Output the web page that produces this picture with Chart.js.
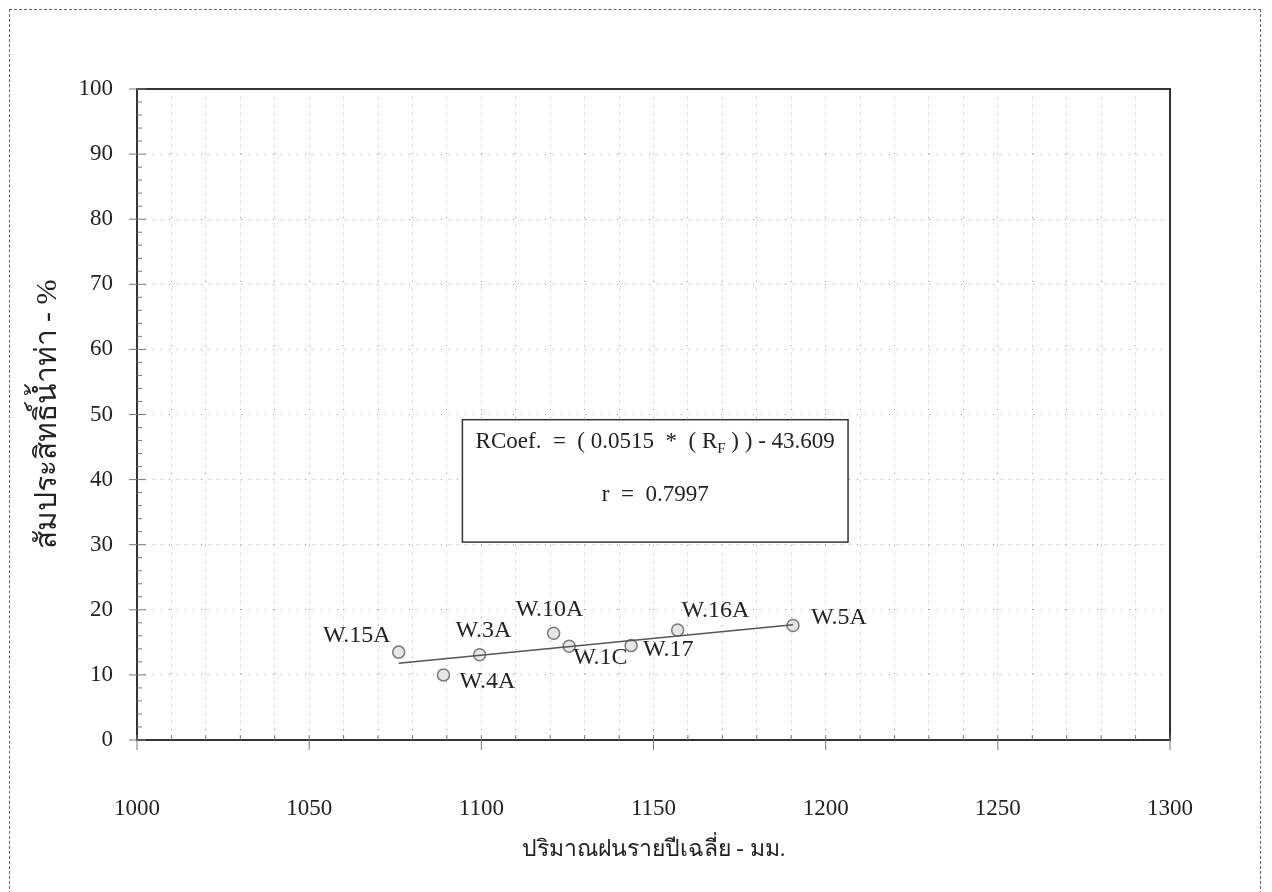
<!DOCTYPE html>
<html>
<head>
<meta charset="utf-8">
<script src="https://cdn.jsdelivr.net/npm/chart.js@4/dist/chart.umd.min.js"></script>
<style>
  body { margin: 0; background: #fff; }
  #wrap { position: relative; width: 1272px; height: 892px; }
  #frame { position: absolute; left: 9px; top: 9px; width: 1252px; height: 890px;
           border: 1px dashed #666; border-bottom: none; box-sizing: border-box; }
  canvas { position: absolute; left: 0; top: 0; }
</style>
</head>
<body>
<div id="wrap">
  <div id="frame"></div>
  <canvas id="c" width="1272" height="892"></canvas>
</div>
<script>
// stations, mean annual rainfall (mm) and runoff coefficient (%)
const stations = ['W.15A', 'W.4A', 'W.3A', 'W.10A', 'W.1C', 'W.17', 'W.16A', 'W.5A'];
const rainfall = [1076, 1089, 1099.5, 1121, 1125.5, 1143.5, 1157, 1190.5];
const runoffCoef = [13.5, 10.0, 13.1, 16.4, 14.4, 14.5, 16.9, 17.6];

// regression line endpoints
const trendX = [1076, 1190.5];
const trendY = [11.8, 17.7];

const eqLine1 = 'RCoef.  =  ( 0.0515  *  ( R';
const eqSub = 'F';
const eqLine1b = ' ) ) - 43.609';
const eqLine2 = 'r  =  0.7997';

const xTitle = 'ปริมาณฝนรายปีเฉลี่ย - มม.';
const yTitle = 'สัมประสิทธิ์น้ำท่า - %';

// label placement relative to each point (px), kept apart from the data
const labelOffsets = [
  { dx: -8, dy: -16, align: 'right' },
  { dx: 16, dy: 7, align: 'left' },
  { dx: -24, dy: -24, align: 'left' },
  { dx: -38, dy: -24, align: 'left' },
  { dx: 4, dy: 11, align: 'left' },
  { dx: 12, dy: 4, align: 'left' },
  { dx: 4, dy: -19, align: 'left' },
  { dx: 18, dy: -8, align: 'left' }
];

const serif = '"Liberation Serif", "Times New Roman", serif';
const ink = '#222';

const extras = {
  id: 'extras',
  afterDraw(chart) {
    const { ctx, chartArea: a, scales: { x, y } } = chart;
    ctx.save();
    // plot border
    ctx.strokeStyle = '#333';
    ctx.lineWidth = 2;
    ctx.strokeRect(a.left, a.top, a.right - a.left, a.bottom - a.top);
    // minor ticks
    ctx.lineWidth = 1;
    ctx.strokeStyle = '#777';
    for (let v = 0; v <= 100; v += 2) {
      const py = y.getPixelForValue(v);
      ctx.beginPath(); ctx.moveTo(a.left, py); ctx.lineTo(a.left + (v % 10 ? 5 : 9), py); ctx.stroke();
      if (v % 10 === 0) { ctx.beginPath(); ctx.moveTo(a.left - 8, py); ctx.lineTo(a.left, py); ctx.stroke(); }
    }
    for (let v = 1000; v <= 1300; v += 10) {
      const px = x.getPixelForValue(v);
      ctx.beginPath(); ctx.moveTo(px, a.bottom); ctx.lineTo(px, a.bottom - 5); ctx.stroke();
      if (v % 50 === 0) { ctx.beginPath(); ctx.moveTo(px, a.bottom); ctx.lineTo(px, a.bottom + 10); ctx.stroke(); }
    }
    // point labels
    ctx.fillStyle = ink;
    ctx.font = '24px ' + serif;
    ctx.textBaseline = 'middle';
    stations.forEach((s, i) => {
      const o = labelOffsets[i];
      ctx.textAlign = o.align;
      ctx.fillText(s, x.getPixelForValue(rainfall[i]) + o.dx, y.getPixelForValue(runoffCoef[i]) + o.dy);
    });
    // equation box
    const bx0 = x.getPixelForValue(1094.5), bx1 = x.getPixelForValue(1206.5);
    const by0 = y.getPixelForValue(49.2), by1 = y.getPixelForValue(30.4);
    ctx.fillStyle = '#fff';
    ctx.fillRect(bx0, by0, bx1 - bx0, by1 - by0);
    ctx.strokeStyle = '#333';
    ctx.lineWidth = 1.5;
    ctx.strokeRect(bx0, by0, bx1 - bx0, by1 - by0);
    ctx.fillStyle = ink;
    ctx.font = '23px ' + serif;
    const w1 = ctx.measureText(eqLine1).width;
    ctx.font = '15px ' + serif;
    const ws = ctx.measureText(eqSub).width;
    ctx.font = '23px ' + serif;
    const w2 = ctx.measureText(eqLine1b).width;
    const tx = (bx0 + bx1) / 2 - (w1 + ws + w2) / 2;
    const ty = by0 + 22;
    ctx.textAlign = 'left';
    ctx.fillText(eqLine1, tx, ty);
    ctx.font = '15px ' + serif;
    ctx.fillText(eqSub, tx + w1, ty + 7);
    ctx.font = '23px ' + serif;
    ctx.fillText(eqLine1b, tx + w1 + ws, ty);
    ctx.textAlign = 'center';
    ctx.fillText(eqLine2, (bx0 + bx1) / 2, by0 + 75);
    ctx.restore();
  }
};

new Chart(document.getElementById('c'), {
  type: 'scatter',
  data: {
    datasets: [
      {
        type: 'line',
        data: trendX.map((v, i) => ({ x: v, y: trendY[i] })),
        borderColor: '#555',
        borderWidth: 1.5,
        pointRadius: 0,
        fill: false
      },
      {
        data: rainfall.map((v, i) => ({ x: v, y: runoffCoef[i] })),
        pointRadius: 6,
        pointBorderWidth: 1.5,
        borderColor: '#7a7a7a',
        backgroundColor: '#e6e6e6'
      }
    ]
  },
  options: {
    responsive: false,
    animation: false,
    events: [],
    layout: { padding: { left: 0, top: 89, right: 102, bottom: 0 } },
    plugins: { legend: { display: false }, tooltip: { enabled: false } },
    scales: {
      x: {
        type: 'linear', min: 1000, max: 1300,
        afterFit(s) { s.height = 152; },
        border: { display: false, dash: [1, 7] },
        grid: { color: '#9a9a9a', lineWidth: 1, drawTicks: false },
        ticks: {
          stepSize: 10, padding: 55, color: ink, maxRotation: 0, autoSkip: false,
          font: { family: serif, size: 23 },
          callback: v => (v % 50 === 0 ? String(v) : '')
        },
        title: { display: true, text: xTitle, color: ink, font: { family: serif, size: 23 }, padding: { top: 0, bottom: 28 } }
      },
      y: {
        min: 0, max: 100,
        afterFit(s) { s.width = 137; },
        border: { display: false, dash: [1, 7] },
        grid: { color: '#9a9a9a', lineWidth: 1, drawTicks: false },
        ticks: { stepSize: 10, padding: 24, color: ink, font: { family: serif, size: 23 } },
        title: { display: true, text: yTitle, color: ink, font: { family: serif, size: 30 }, padding: { top: 30, bottom: 0 } }
      }
    }
  },
  plugins: [extras]
});
</script>
</body>
</html>
